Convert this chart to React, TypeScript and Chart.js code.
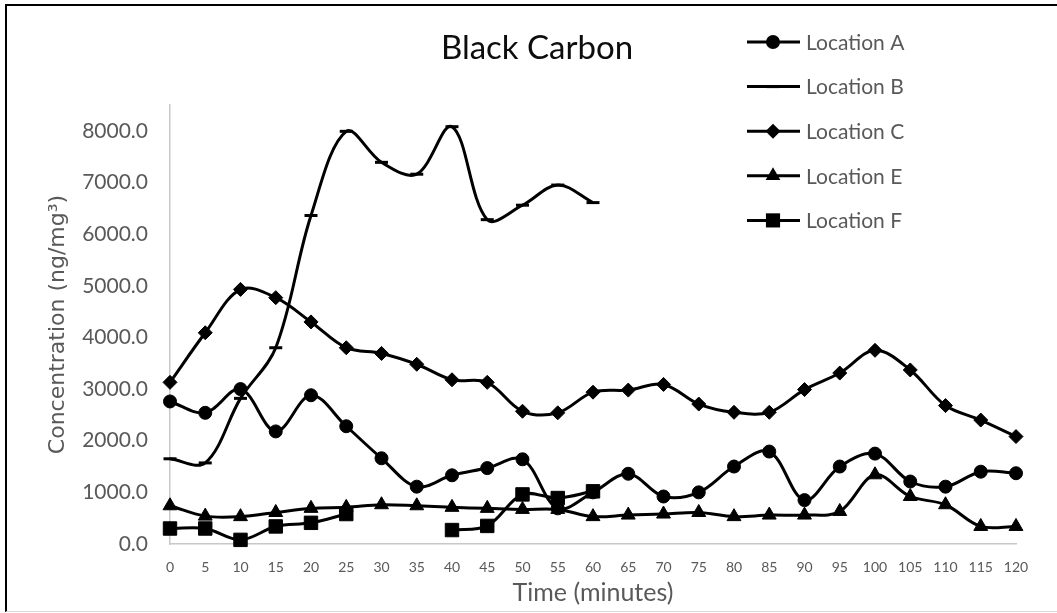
import React, { useEffect, useRef } from 'react';
import { Chart, registerables } from 'chart.js';

Chart.register(...registerables);

// ---- data ----
const minutes = ['0', '5', '10', '15', '20', '25', '30', '35', '40', '45', '50', '55', '60', '65', '70', '75', '80', '85', '90', '95', '100', '105', '110', '115', '120'];

const locationA = [2760, 2540, 3000, 2180, 2880, 2280, 1660, 1110, 1330, 1470, 1640, 690, 1000, 1360, 920, 1000, 1500, 1790, 850, 1500, 1750, 1210, 1110, 1400, 1370];
const locationB = [1650, 1570, 2820, 3800, 6360, 7990, 7390, 7160, 8080, 6280, 6560, 6950, 6610, null, null, null, null, null, null, null, null, null, null, null, null];
const locationC = [3130, 4090, 4930, 4770, 4300, 3800, 3690, 3480, 3180, 3130, 2570, 2540, 2940, 2980, 3090, 2710, 2550, 2550, 2990, 3310, 3750, 3370, 2680, 2400, 2080];
const locationE = [740, 540, 530, 610, 690, 710, 760, 740, 710, 690, 670, 670, 530, 560, 580, 610, 530, 560, 560, 630, 1340, 920, 760, 340, 340];
const locationF = [300, 300, 80, 340, 410, 580, null, null, 270, 350, 960, 890, 1020, null, null, null, null, null, null, null, null, null, null, null, null];

const seriesNames = ['Location A', 'Location B', 'Location C', 'Location E', 'Location F'];
const yTickValues = [0, 1000, 2000, 3000, 4000, 5000, 6000, 7000, 8000];
const yMax = 8500;

const chartTitle = 'Black Carbon';
const xTitle = 'Time (minutes)';
const yTitle = 'Concentration (ng/mg\u00B3)';

const FONT = 'Lato, "Open Sans", sans-serif';
const WIDE_FONT = '"DejaVu Sans", Verdana, sans-serif';
const GRAY = '#595959';

type MarkerStyle = 'circle' | 'line' | 'rectRot' | 'triangle' | 'rect';

const markerStyles: MarkerStyle[] = ['circle', 'line', 'rectRot', 'triangle', 'rect'];
const legendMarkerRadius = [7, 6.5, 7.5, 8.5, 10];
const pointRadii = [6.5, 6.5, 7, 8, 9.5];

function drawMarker(ctx: CanvasRenderingContext2D, style: MarkerStyle, x: number, y: number, r: number) {
  ctx.beginPath();
  switch (style) {
    case 'circle':
      ctx.arc(x, y, r, 0, Math.PI * 2);
      ctx.fill();
      break;
    case 'line':
      ctx.lineWidth = 3;
      ctx.moveTo(x - r, y);
      ctx.lineTo(x + r, y);
      ctx.stroke();
      break;
    case 'rectRot':
      ctx.moveTo(x - r, y);
      ctx.lineTo(x, y - r);
      ctx.lineTo(x + r, y);
      ctx.lineTo(x, y + r);
      ctx.closePath();
      ctx.fill();
      break;
    case 'triangle':
      ctx.moveTo(x, y - r);
      ctx.lineTo(x + 0.866 * r, y + 0.5 * r);
      ctx.lineTo(x - 0.866 * r, y + 0.5 * r);
      ctx.closePath();
      ctx.fill();
      break;
    case 'rect': {
      const s = r * Math.SQRT1_2;
      ctx.rect(x - s, y - s, 2 * s, 2 * s);
      ctx.fill();
      break;
    }
  }
}

const overlayPlugin = {
  id: 'overlayTitleLegend',
  afterDraw(chart: any) {
    const ctx: CanvasRenderingContext2D = chart.ctx;
    ctx.save();
    // title
    ctx.fillStyle = '#0d0d0d';
    ctx.font = `33px ${FONT}`;
    ctx.textAlign = 'center';
    ctx.textBaseline = 'middle';
    ctx.fillText(chartTitle, 537, 48);

    // legend
    const lx0 = 747;
    const lx1 = 800;
    const mx = 773;
    const tx = 806;
    const rowY0 = 42;
    const rowGap = 44.6;
    seriesNames.forEach((name, i) => {
      const y = rowY0 + i * rowGap;
      ctx.strokeStyle = '#000';
      ctx.fillStyle = '#000';
      ctx.lineWidth = 3;
      ctx.beginPath();
      ctx.moveTo(lx0, y);
      ctx.lineTo(lx1, y);
      ctx.stroke();
      drawMarker(ctx, markerStyles[i], mx, y, legendMarkerRadius[i]);
      ctx.fillStyle = GRAY;
      ctx.font = `21px ${FONT}`;
      ctx.textAlign = 'left';
      ctx.textBaseline = 'middle';
      ctx.fillText(name, tx, y + 1);
    });
    ctx.restore();
  },
};

export default function App() {
  const canvasRef = useRef<HTMLCanvasElement | null>(null);

  useEffect(() => {
    const canvas = canvasRef.current;
    if (!canvas) return;
    const seriesData = [locationA, locationB, locationC, locationE, locationF];
    const datasets = seriesNames.map((name, i) => ({
      label: name,
      data: seriesData[i],
      borderColor: '#000',
      backgroundColor: '#000',
      borderWidth: 3,
      tension: 0.35,
      pointStyle: markerStyles[i],
      pointRadius: pointRadii[i],
      pointBorderWidth: markerStyles[i] === 'line' ? 3 : 1,
      pointBackgroundColor: '#000',
      pointBorderColor: '#000',
      pointHoverRadius: pointRadii[i],
      spanGaps: false,
      clip: false as any,
      order: seriesNames.length - i,
    }));

    const chart = new Chart(canvas, {
      type: 'line',
      data: { labels: minutes, datasets },
      plugins: [overlayPlugin],
      options: {
        responsive: false,
        animation: false,
        devicePixelRatio: 1,
        layout: { padding: { top: 105, right: 41, bottom: 0, left: 0 } },
        plugins: {
          legend: { display: false },
          title: { display: false },
          tooltip: { enabled: false },
        },
        scales: {
          x: {
            type: 'category',
            offset: false,
            grid: { display: false, drawTicks: false },
            border: { display: true, color: '#c8c8c8', width: 1.5 },
            ticks: {
              color: GRAY,
              font: { family: FONT, size: 14 },
              padding: 15,
              maxRotation: 0,
              autoSkip: false,
            },
            title: {
              display: true,
              text: xTitle,
              color: GRAY,
              font: { family: FONT, size: 25 },
              padding: { top: 0, bottom: 5 },
            },
            afterFit(scale: any) {
              scale.height = 69;
            },
          },
          y: {
            type: 'linear',
            min: 0,
            max: yMax,
            grid: { display: false, drawTicks: false },
            border: { display: true, color: '#c8c8c8', width: 1.5 },
            afterBuildTicks(scale: any) {
              scale.ticks = yTickValues.map((v) => ({ value: v }));
            },
            ticks: {
              autoSkip: false,
              color: GRAY,
              font: { family: FONT, size: 21 },
              padding: 22,
              callback: (v: any) => Number(v).toFixed(1),
            },
            title: {
              display: true,
              text: yTitle,
              color: GRAY,
              font: { family: WIDE_FONT, size: 22 },
              padding: { top: 45, bottom: 0 },
            },
            afterFit(scale: any) {
              scale.width = 170;
            },
          },
        },
      },
    });
    return () => chart.destroy();
  }, []);

  return (
    <>
      <div style={{ position: 'absolute', left: 0, top: 0, width: 1057, height: 613, background: '#fff' }}>
        <canvas ref={canvasRef} width={1057} height={613} style={{ display: 'block', width: 1057, height: 613 }} />
      </div>
      <div
        style={{
          position: 'absolute',
          left: 5,
          top: 4,
          width: 1052,
          height: 608,
          boxSizing: 'border-box',
          borderTop: '2px solid #000',
          borderLeft: '2px solid #000',
          borderBottom: '1px solid #d9d9d9',
          pointerEvents: 'none',
        }}
      />
    </>
  );
}
